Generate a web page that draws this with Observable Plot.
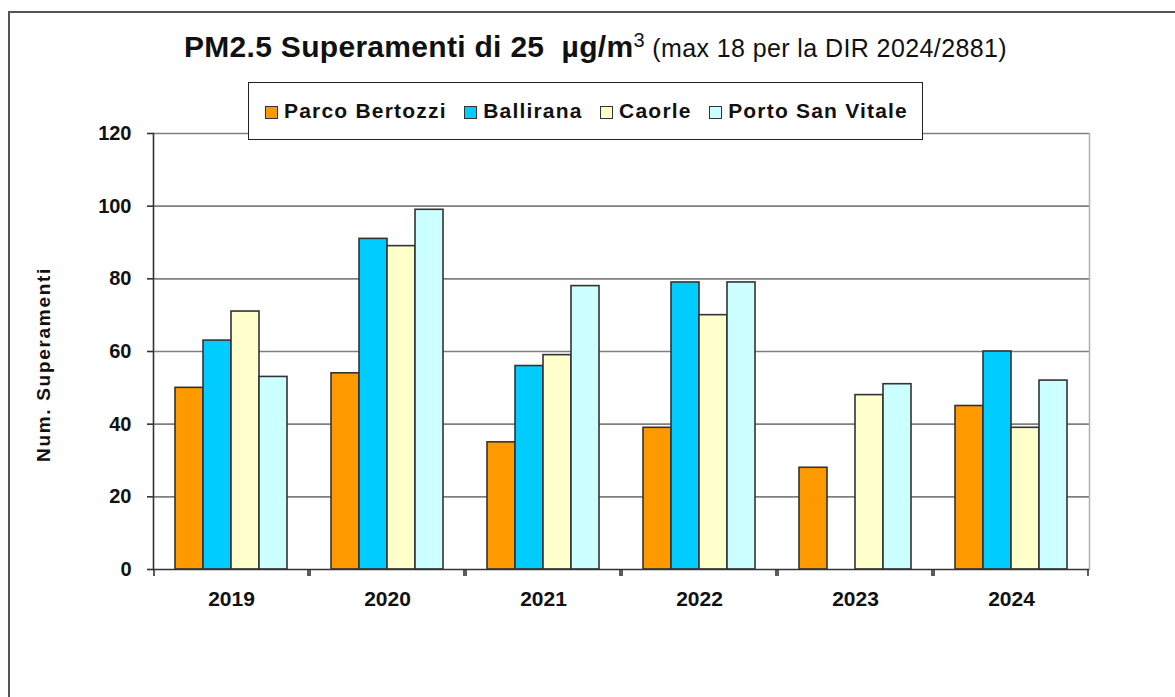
<!DOCTYPE html>
<html>
<head>
<meta charset="utf-8">
<script src="https://cdn.jsdelivr.net/npm/d3@7"></script>
<script src="https://cdn.jsdelivr.net/npm/@observablehq/plot@0.6"></script>
<style>
  html, body { margin: 0; padding: 0; background: #fff; }
  #page { position: relative; width: 1175px; height: 697px; overflow: hidden; font-family: "Liberation Sans", Arial, sans-serif; }
  #frame { position: absolute; left: 8px; top: 11px; width: 1400px; height: 900px; border-top: 2px solid #555; border-left: 2px solid #555; box-sizing: border-box; }
  #title { position: absolute; left: 184px; top: 32px; white-space: nowrap; line-height: 30px; color: #111; }
  #title .main { font-size: 30px; font-weight: bold; letter-spacing: 0.3px; }
  #title .main sup { font-size: 20px; vertical-align: 10px; line-height: 0; font-weight: normal; }
  #title .sub { font-size: 25px; letter-spacing: 0.4px; }
  #legend { position: absolute; left: 248px; top: 82px; width: 675px; height: 58px; box-sizing: border-box; border: 1.5px solid #222; background: #fff; display: flex; align-items: center; justify-content: space-between; padding-left: 16px; padding-right: 14px; z-index: 2; }
  .item { display: flex; align-items: center; font-size: 21px; font-weight: bold; color: #111; letter-spacing: 1.2px; }
  .sw { width: 11px; height: 11px; border: 1px solid #333; margin-right: 6px; margin-top: 3px; }
  #chart { position: absolute; left: 0; top: 0; }
  .ylab { letter-spacing: 1.7px; }
</style>
</head>
<body>
<div id="page">
  <div id="frame"></div>
  <div id="chart"></div>
  <div id="title"><span class="main">PM2.5 Superamenti di 25&nbsp; µg/m<sup>3</sup></span><span class="sub"> (max 18 per la DIR 2024/2881)</span></div>
  <div id="legend"></div>
</div>
<script>
const years = ["2019", "2020", "2021", "2022", "2023", "2024"];
const stations = ["Parco Bertozzi", "Ballirana", "Caorle", "Porto San Vitale"];
const parcoBertozzi = [50, 54, 35, 39, 28, 45];
const ballirana = [63, 91, 56, 79, null, 60];
const caorle = [71, 89, 59, 70, 48, 39];
const portoSanVitale = [53, 99, 78, 79, 51, 52];
const colors = ["#FF9900", "#00CCFF", "#FFFFCC", "#CCFFFF"];
const yTicks = [0, 20, 40, 60, 80, 100, 120];
const yLabel = "Num. Superamenti";

const series = [parcoBertozzi, ballirana, caorle, portoSanVitale];
const rows = [];
years.forEach((year, i) => {
  stations.forEach((station, j) => {
    const v = series[j][i];
    if (v != null) rows.push({year, station, value: v});
  });
});

// legend
const legend = document.getElementById("legend");
stations.forEach((s, i) => {
  const it = document.createElement("div");
  it.className = "item";
  const sw = document.createElement("span");
  sw.className = "sw";
  sw.style.background = colors[i];
  it.appendChild(sw);
  it.appendChild(document.createTextNode(s));
  legend.appendChild(it);
});

const groupPad = 0.75; // outer padding of the station band inside each year

const chart = Plot.plot({
  width: 1175,
  height: 697,
  marginTop: 133,
  marginBottom: 128,
  marginLeft: 151,
  marginRight: 84,
  style: {fontFamily: "'Liberation Sans', Arial, sans-serif", background: "transparent", color: "#111"},
  fx: {domain: years, padding: 0, label: null},
  x: {domain: stations, paddingInner: 0, paddingOuter: groupPad, axis: null},
  y: {domain: [0, 120], axis: null},
  color: {domain: stations, range: colors},
  marks: [
    Plot.ruleY(yTicks.slice(1), {stroke: "#7f7f7f", strokeWidth: 1.6}),
    Plot.frame({anchor: "right", facetAnchor: "right", stroke: "#b0b0b0", strokeWidth: 1.5}),
    Plot.barY(rows, {fx: "year", x: "station", y: "value", fill: "station", stroke: "#333", strokeWidth: 1.6}),
    Plot.ruleY([0], {stroke: "#333", strokeWidth: 1.6}),
    Plot.frame({anchor: "left", facetAnchor: "left", stroke: "#333", strokeWidth: 1.6}),
    Plot.axisY(yTicks, {anchor: "left", tickSize: 6, tickPadding: 16, label: null, fontSize: 20, fontWeight: "bold", stroke: "#333", strokeWidth: 1.6}),
    // category boundary ticks below the x axis (at each year's band edges)
    Plot.ruleY([0], {
      render(index, scales, values, dims) {
        const g = d3.create("svg:g").attr("stroke", "#333").attr("stroke-width", 1.6);
        const y0 = scales.y(0);
        const d = scales.scales.x;
        const left = scales.x(stations[0]) - groupPad * d.step;
        const right = scales.x(stations[stations.length - 1]) + d.bandwidth + groupPad * d.step;
        [left, right].forEach(x => g.append("line").attr("x1", x).attr("x2", x).attr("y1", y0).attr("y2", y0 + 7));
        return g.node();
      }
    }),
    Plot.axisFx({anchor: "bottom", tickSize: 0, tickPadding: 22, fontSize: 21, fontWeight: "bold", label: null}),
    Plot.text([yLabel], {frameAnchor: "left", facetAnchor: "left", textAnchor: "middle", dx: -110, dy: 13, rotate: -90, fontSize: 19, fontWeight: "bold", className: "ylab"})
  ]
});
document.getElementById("chart").appendChild(chart);
</script>
</body>
</html>
